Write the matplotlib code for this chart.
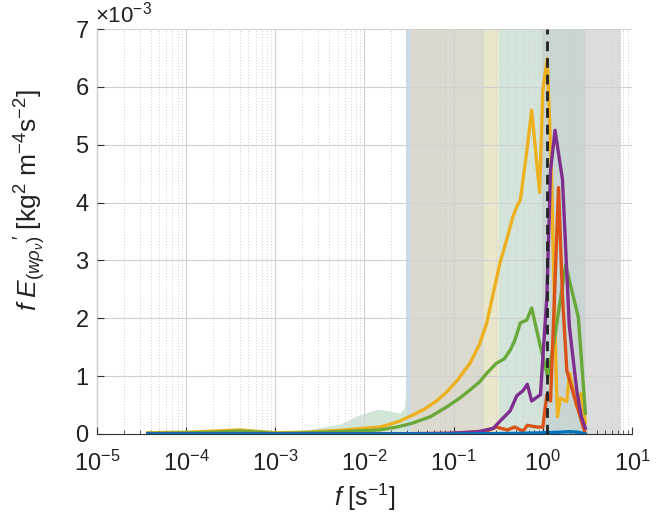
import numpy as np
import matplotlib
matplotlib.use("Agg")
import matplotlib.pyplot as plt
from matplotlib.ticker import FixedLocator, LogLocator, NullFormatter

plt.rcParams['font.family'] = ['Liberation Sans', 'DejaVu Sans']
plt.rcParams['mathtext.fontset'] = 'custom'
plt.rcParams['mathtext.rm'] = 'Liberation Sans'
plt.rcParams['mathtext.it'] = 'Liberation Sans:italic'
plt.rcParams['mathtext.bf'] = 'Liberation Sans:bold'

# ---- data (values in units of 1e-3) ----
f_low = [3.7e-5, 1e-4, 2e-4, 4e-4, 7e-4, 1e-3, 2e-3, 5e-3, 0.0148, 0.0194, 0.0247]
yellow_low = [0.02, 0.03, 0.05, 0.07, 0.04, 0.02, 0.03, 0.06, 0.12, 0.17, 0.22]
green_low = [0.01, 0.02, 0.03, 0.05, 0.03, 0.01, 0.02, 0.04, 0.07, 0.10, 0.13]

f_yel = [0.035, 0.047, 0.064, 0.084, 0.11, 0.152, 0.195, 0.235, 0.275, 0.33,
         0.40, 0.46, 0.51, 0.56, 0.65, 0.75, 0.92, 1.0, 1.12,
         1.24, 1.40, 1.46, 1.57, 1.85, 2.0, 2.4, 2.7, 3.0]
yellow_hi = [0.33, 0.43, 0.57, 0.73, 0.93, 1.22, 1.55, 1.92, 2.40, 2.95,
             3.40, 3.75, 3.93, 4.05, 4.8, 5.6, 4.18, 5.94, 6.49,
             4.68, 1.22, 0.30, 0.62, 0.56, 1.05, 0.47, 0.70, 0.19]

f_grn = [0.035, 0.055, 0.084, 0.117, 0.152, 0.195, 0.235, 0.30, 0.37, 0.43,
         0.48, 0.56, 0.66, 0.75, 0.92, 1.14, 1.40, 1.80, 2.2, 2.5, 3.0]
green_hi = [0.19, 0.30, 0.47, 0.62, 0.76, 0.90, 1.05, 1.22, 1.30, 1.45,
            1.60, 1.92, 1.97, 2.18, 1.57, 0.98, 1.80, 2.92, 2.37, 2.02, 0.36]

f_pur = [3.7e-5, 1e-3, 0.01, 0.084, 0.19, 0.28, 0.33, 0.43, 0.51, 0.60, 0.67,
         0.75, 0.94, 1.11, 1.22, 1.37, 1.66, 1.98, 2.4, 2.7, 3.0]
purple = [0.0, 0.0, 0.0, 0.01, 0.04, 0.10, 0.22, 0.40, 0.66, 0.75, 0.86,
          0.57, 0.68, 2.37, 4.56, 5.25, 4.40, 1.87, 0.76, 0.30, 0.10]

f_red = [3.7e-5, 0.01, 0.1, 0.235, 0.30, 0.40, 0.48, 0.60, 0.67, 0.86, 1.0,
         1.11, 1.22, 1.35, 1.50, 1.66, 1.86, 2.4, 3.0]
red = [0.0, 0.0, 0.01, 0.05, 0.12, 0.07, 0.12, 0.05, 0.15, 0.12, 0.12,
       0.68, 0.57, 2.37, 4.26, 2.37, 1.09, 0.50, 0.0]

f_blu = [3.7e-5, 0.1, 0.5, 1.0, 1.5, 2.0, 2.5, 3.0]
blue = [0.0, 0.0, 0.01, 0.02, 0.03, 0.04, 0.03, 0.0]

# shaded spectrum (background, green)
f_hump = [3e-4, 4e-4, 6e-4, 1e-3, 1.9e-3, 5.3e-3, 8.8e-3, 0.014, 0.019, 0.025, 0.028, 0.0295]
hump = [0.02, 0.06, 0.03, 0.01, 0.05, 0.17, 0.33, 0.43, 0.40, 0.36, 0.45, 0.85]

# shaded frequency bands
band_edges = [0.0292, 0.0335, 0.22, 0.32, 0.98, 3.0, 7.5]
band_colors = ['#c9dcea', '#dcd9ce', '#e9e6cc', '#d3e5da', '#c8d5d2', '#dcdcdc']

x_ticks = [1e-5, 1e-4, 1e-3, 1e-2, 1e-1, 1e0, 1e1]
x_ticklabels = [r'$10^{-5}$', r'$10^{-4}$', r'$10^{-3}$', r'$10^{-2}$',
                r'$10^{-1}$', r'$10^{0}$', r'$10^{1}$']
y_ticks = [0, 1, 2, 3, 4, 5, 6, 7]

f_dash = 1.12

fig = plt.figure(figsize=(6.62, 5.19), dpi=100)
ax = fig.add_axes([0.1465, 0.1638, 0.8082, 0.7802])

ymax = 7.0
for lo, hi, c in zip(band_edges[:-1], band_edges[1:], band_colors):
    ax.fill_between([lo, hi], [0, 0], [ymax, ymax], color=c, lw=0, zorder=1)
ax.fill_between(f_hump, 0, hump, color='#d2e6d8', lw=0, zorder=1)

lw = 2.4
ax.plot(f_low + f_yel, yellow_low + yellow_hi, color='#edb120', lw=lw, zorder=4)
ax.plot(f_low + f_grn, green_low + green_hi, color='#6aa83a', lw=lw, zorder=4)
ax.plot(f_red, red, color='#d95319', lw=lw, zorder=4)
ax.plot(f_pur, purple, color='#7e2f8e', lw=lw, zorder=5)
ax.plot(f_blu, blue, color='#0072bd', lw=lw, zorder=5)
ax.plot([f_dash, f_dash], [0, ymax], color='#222222', lw=2, ls=(0, (3.5, 2.5)), zorder=6)

ax.set_xscale('log')
ax.set_xlim(1e-5, 10)
ax.set_ylim(0, ymax)
ax.set_yticks(y_ticks)
ax.set_yticklabels([str(v) for v in y_ticks])
ax.xaxis.set_major_locator(FixedLocator(x_ticks))
ax.set_xticklabels(x_ticklabels)
ax.xaxis.set_minor_locator(LogLocator(base=10, subs=np.arange(2, 10), numticks=100))
ax.xaxis.set_minor_formatter(NullFormatter())

ax.grid(True, which='major', axis='both', color='#d0d0d0', lw=0.8, zorder=2)
ax.grid(True, which='minor', axis='x', color='#d0d0d0', lw=0.7, ls=(0, (1, 2)), zorder=2)
ax.set_axisbelow(False)
for sp in ['top', 'right']:
    ax.spines[sp].set_visible(False)
for sp in ['left', 'bottom']:
    ax.spines[sp].set_color('#333333')
    ax.spines[sp].set_linewidth(0.8)
ax.tick_params(which='both', direction='in', colors='#333333', labelcolor='#222222', labelsize=17)
ax.tick_params(which='major', length=5)
ax.tick_params(which='minor', length=3)
ax.tick_params(axis='x', pad=12)
ax.tick_params(axis='y', pad=6)

fig.text(0.143, 0.947, r'$\times10^{-3}$', fontsize=16, color='#222222', ha='left', va='bottom')

ax.set_xlabel(r'$f$ [s$^{-1}$]', fontsize=18, color='#222222', labelpad=4)
ax.set_ylabel(r"$f\;E_{(w\rho_{\nu})}\!{}^{\prime}\;$[kg$^2$ m$^{-4}$s$^{-2}$]", fontsize=19, color='#222222')
ax.yaxis.set_label_coords(-0.092, 0.578)

fig.savefig('out.png', dpi=100)
